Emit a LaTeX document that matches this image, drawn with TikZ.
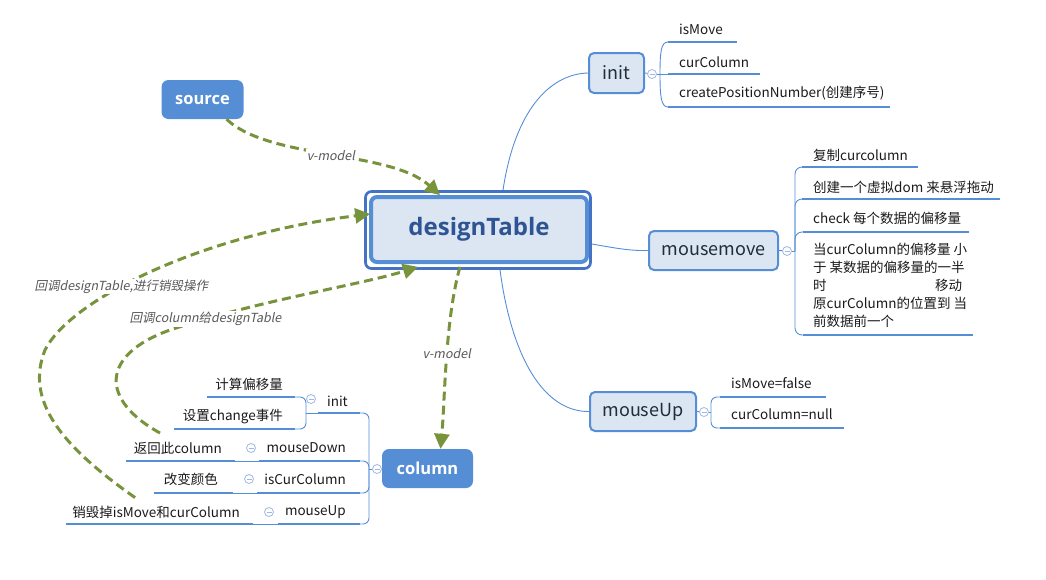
\documentclass[tikz,border=0pt]{standalone}
\usepackage{fontspec}
\setmainfont{Noto Sans CJK SC}
\newfontfamily\slfont{Noto Sans CJK SC}[FakeSlant=0.2]
\newfontfamily\headfont{Open Sans}
\usetikzlibrary{arrows.meta}
\definecolor{boxblue}{HTML}{558ED5}
\definecolor{darkframe}{HTML}{4472C4}
\definecolor{lightfill}{HTML}{DCE6F2}
\definecolor{dttext}{HTML}{2E5494}
\definecolor{boxtext}{HTML}{1F2D3D}
\definecolor{leaftext}{HTML}{1A1A1A}
\definecolor{togblue}{HTML}{9DB9E3}
\definecolor{olivegreen}{HTML}{77933C}
\definecolor{lblgray}{HTML}{595959}
\begin{document}
\begin{tikzpicture}[x=1pt,y=-1pt,
  mbox/.style={draw=boxblue, line width=2pt, fill=lightfill, rounded corners=5pt, inner sep=0pt,
    minimum height=39pt, text=boxtext, font=\fontsize{18}{20}\selectfont},
  sbox/.style={fill=boxblue, rounded corners=7pt, text=white, inner sep=0pt, minimum height=39pt,
    font=\headfont\bfseries\fontsize{16.5}{18}\selectfont},
  leaf/.style={inner sep=0pt, anchor=west, text=leaftext, font=\fontsize{13.5}{18}\selectfont},
  leafr/.style={leaf, anchor=east},
  uline/.style={draw=boxblue, line width=2.6pt},
  branch/.style={draw=boxblue, line width=0.9pt, rounded corners=7pt},
  mainconn/.style={draw=boxblue, line width=0.9pt},
  tog/.style={circle, draw=togblue, fill=white, line width=0.8pt, minimum size=9pt, inner sep=0pt,
    path picture={\draw[togblue, line width=0.8pt] ([xshift=-2.5pt]path picture bounding box.center) -- ([xshift=2.5pt]path picture bounding box.center);}},
  dasharrow/.style={draw=olivegreen, line width=3pt, dash pattern=on 9pt off 5pt,
    -{Triangle[length=15pt,width=15pt]}},
  lbl/.style={fill=white, inner sep=1pt, text=lblgray, font=\slfont\fontsize{12.5}{14}\selectfont}
]
\useasboundingbox (0,0) rectangle (1046,579);

% ---------- main boxes ----------
\node[draw=darkframe, line width=2.7pt, rounded corners=6pt, minimum width=225pt, minimum height=77pt, inner sep=0pt] (dtf) at (478,230) {};
\node[draw=boxblue, line width=4pt, fill=lightfill, rounded corners=6pt, minimum width=216pt, minimum height=65pt, inner sep=0pt,
  text=dttext, font=\headfont\bfseries\fontsize{24}{26}\selectfont] (dt) at (479,229.5) {designTable};

\node[sbox, minimum width=82pt] (src) at (202.5,99.5) {source};
\node[sbox, minimum width=91pt] (col) at (427.5,468.5) {column};

\node[mbox, minimum width=55pt, minimum height=40pt] (init) at (616.5,73) {init};
\node[mbox, minimum width=129pt] (mm) at (713.5,250.5) {mousemove};
\node[mbox, minimum width=106pt] (mu) at (643,411.5) {mouseUp};

% ---------- main connectors ----------
\draw[mainconn] ([xshift=25pt]dtf.north) .. controls (515,110) and (550,74) .. (init.west);
\draw[mainconn] ([yshift=-14pt]dtf.east) .. controls (615,248) and (630,251) .. (mm.west);
\draw[mainconn] ([xshift=22pt]dtf.south) .. controls (512,360) and (545,412) .. (mu.west);

% ---------- init (right) ----------
\node[tog] (tinit) at (652,74) {};
\coordinate (finit) at (660,74);
\node[leaf] (a1) at (679,29) {isMove};
\node[leaf] (a2) at (679,62) {curColumn};
\node[leaf] (a3) at (679,93) {createPositionNumber(创建序号)};
\coordinate (a1s) at (668,42); \coordinate (a1e) at (737,42);
\coordinate (a2s) at (668,74); \coordinate (a2e) at (760,74);
\coordinate (a3s) at (668,107); \coordinate (a3e) at (890,107);
\draw[mainconn] (init.east) -- (tinit);
\draw[mainconn] (tinit) -- (a2s);
\draw[mainconn] (finit) .. controls (660,52) and (661,42) .. (a1s);
\draw[mainconn] (finit) .. controls (660,96) and (661,107) .. (a3s);
\draw[uline] (a1s) -- (a1e);
\draw[uline] (a2s) -- (a2e);
\draw[uline] (a3s) -- (a3e);

% ---------- mousemove ----------
\node[tog] (tmm) at (787,251) {};
\coordinate (fmm) at (795,251);
\node[leaf] (b1) at (813,155) {复制curcolumn};
\node[leaf] (b2) at (813,187) {创建一个虚拟dom 来悬浮拖动};
\node[leaf] (b3) at (813,218) {check 每个数据的偏移量};
\node[leaf, anchor=north west, align=left] (b4) at (813,243) {当curColumn的偏移量 小\\于 某数据的偏移量的一半\\\makebox[149pt][l]{时\hfill 移动}\\原curColumn的位置到 当\\前数据前一个};
\coordinate (b1s) at (802,167); \coordinate (b1e) at (918,167);
\coordinate (b2s) at (802,199); \coordinate (b2e) at (1000,199);
\coordinate (b3s) at (803,232); \coordinate (b3e) at (969,232);
\coordinate (b4s) at (803,335); \coordinate (b4e) at (973,335);
\draw[mainconn] (mm.east) -- (tmm);
\draw[mainconn] (tmm) -- (fmm);
\draw[branch] (fmm) |- (b1s);
\draw[branch] (fmm) |- (b2s);
\draw[branch] (fmm) |- (b3s);
\draw[branch] (fmm) |- (b4s);
\draw[uline] (b1s) -- (b1e);
\draw[uline] (b2s) -- (b2e);
\draw[uline] (b3s) -- (b3e);
\draw[uline] (b4s) -- (b4e);

% ---------- mouseUp ----------
\node[tog] (tmu) at (704,412) {};
\coordinate (fmu) at (711,412);
\node[leaf] (c1) at (731,383) {isMove=false};
\node[leaf] (c2) at (731,414) {curColumn=null};
\coordinate (c1s) at (720,397); \coordinate (c1e) at (826,397);
\coordinate (c2s) at (720,428); \coordinate (c2e) at (844,428);
\draw[mainconn] (mu.east) -- (tmu);
\draw[mainconn] (tmu) -- (fmu);
\draw[branch, rounded corners=6pt] (fmu) |- (c1s);
\draw[branch, rounded corners=6pt] (fmu) |- (c2s);
\draw[uline] (c1s) -- (c1e);
\draw[uline] (c2s) -- (c2e);

% ---------- column tree ----------
\node[tog] (tcol) at (377,469) {};
\coordinate (fcol) at (369,469);
\node[leafr] (d1) at (348,401) {init};
\node[leafr] (d2) at (346,448) {mouseDown};
\node[leafr] (d3) at (346,479) {isCurColumn};
\node[leafr] (d4) at (346,512) {mouseUp};
\coordinate (d1s) at (318,413); \coordinate (d1e) at (360,413);
\coordinate (d2s) at (259,461); \coordinate (d2e) at (360,461);
\coordinate (d3s) at (257,493); \coordinate (d3e) at (360,493);
\coordinate (d4s) at (278,524); \coordinate (d4e) at (360,524);
\draw[mainconn] (tcol) -- (fcol);
\draw[branch, rounded corners=6pt] (fcol) |- (d1e);
\draw[branch, rounded corners=6pt] (fcol) |- (d2e);
\draw[branch, rounded corners=6pt] (fcol) |- (d3e);
\draw[branch, rounded corners=6pt] (fcol) |- (d4e);
\draw[uline] (d1s) -- (d1e);
\draw[uline] (d2s) -- (d2e);
\draw[uline] (d3s) -- (d3e);
\draw[uline] (d4s) -- (d4e);

\node[tog] (td1) at (311,399) {};
\node[tog] (td2) at (251,448) {};
\node[tog] (td3) at (249,479) {};
\node[tog] (td4) at (269,512) {};

% init children (left)
\coordinate (fk) at (306,413);
\node[leafr] (k1) at (283,384) {计算偏移量};
\node[leafr] (k2) at (283,417) {设置change事件};
\coordinate (k1s) at (207,397); \coordinate (k1e) at (295,397);
\coordinate (k2s) at (174,429); \coordinate (k2e) at (295,429);
\draw[mainconn] (d1s) -- (fk);
\draw[branch, rounded corners=6pt] (fk) |- (k1e);
\draw[branch, rounded corners=6pt] (fk) |- (k2e);
\draw[uline] (k1s) -- (k1e);
\draw[uline] (k2s) -- (k2e);

% mouseDown child
\node[leafr] (k3) at (222,448) {返回此column};
\coordinate (k3s) at (126,461); \coordinate (k3e) at (235,461);
\draw[mainconn] (k3e) -- (d2s);
\draw[uline] (k3s) -- (k3e);

% isCurColumn child
\node[leafr] (k4) at (218,479) {改变颜色};
\coordinate (k4s) at (154,493); \coordinate (k4e) at (233,493);
\draw[mainconn] (k4e) -- (d3s);
\draw[uline] (k4s) -- (k4e);

% mouseUp child
\node[leafr] (k5) at (240,512) {销毁掉isMove和curColumn};
\coordinate (k5s) at (66,524); \coordinate (k5e) at (253,524);
\draw[mainconn] (k5e) -- (d4s);
\draw[uline] (k5s) -- (k5e);

% ---------- dashed relations ----------
\draw[dasharrow] ([xshift=24pt]src.south) .. controls (270,160) and (390,150) .. ([xshift=-38pt,yshift=-5pt]dtf.north)
  node[pos=0.5, lbl] {v-model};
\draw[dasharrow] ([xshift=-18pt,yshift=3pt]dtf.south) .. controls (445,320) and (445,400) .. ([xshift=13pt]col.north)
  node[pos=0.47, lbl] {v-model};
\draw[dasharrow] ([xshift=-14pt,yshift=-4pt]k2s) .. controls (100,400) and (100,355) .. (170,330)
  .. controls (260,300) and (360,285) .. ([xshift=-60pt,yshift=3pt]dtf.south)
  node[pos=0.13, lbl] {回调column给designTable};
\draw[dasharrow] ([xshift=-21pt,yshift=8pt]k5.north) .. controls (60,445) and (25,400) .. (45,350)
  .. controls (70,300) and (200,235) .. ([xshift=6pt,yshift=16pt]dtf.west)
  node[pos=0.4, lbl] {回调designTable,进行销毁操作};
\end{tikzpicture}
\end{document}
